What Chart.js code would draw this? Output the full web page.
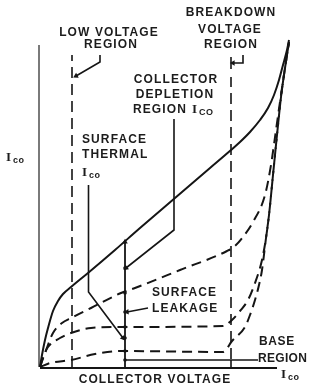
<!DOCTYPE html>
<html>
<head>
<meta charset="utf-8">
<script src="https://cdn.jsdelivr.net/npm/chart.js@4/dist/chart.umd.min.js"></script>
<style>
  body { margin: 0; background: #fff; }
  canvas { display: block; }
</style>
</head>
<body>
<canvas id="myChart" width="310" height="388"></canvas>
<script>
// collector voltage (x) and I_co (y), arbitrary units
const mainV = [0, 1, 2.5, 4, 6.5, 9, 11.5, 15.5, 24, 37.5, 50, 67.5, 85, 95.5, 100, 105, 110, 114, 117, 119.5, 121.5, 123.5, 124.5];
const mainI = [0, 6, 13.5, 19.5, 28, 33, 36.5, 40, 47, 58.5, 69.5, 84.5, 99.5, 108.5, 112.5, 117.5, 123.5, 129.5, 136, 143.5, 151, 158.5, 163.5];

// dashed components
const thermalV = [0, 2.5, 6.5, 11, 15.5, 25.5, 40.5, 47.5, 70, 93.5, 97.5, 101.5, 106.5, 112.5, 115.5, 118, 120.5, 122.5, 124.5];
const thermalI = [0, 7, 17, 22, 24.5, 29.5, 37, 39.5, 48.5, 58, 60.5, 65, 72.5, 86, 101, 118.5, 136, 149.5, 162.5];

const leakageV = [0, 2, 4, 10, 15.5, 25.5, 40.5, 91.5, 96, 100, 104, 107.5, 111, 113, 114.5, 116.5, 118.5, 120.5, 122.5, 124.5];
const leakageI = [0, 6, 10, 14.5, 17, 19.5, 20, 20.5, 23.5, 28, 33.5, 42, 53.5, 64.5, 76, 96, 116, 135, 149.5, 162.5];

const baseV = [0, 5, 15.5, 27.5, 40.5, 91.5, 96, 102.5, 105, 107.5, 109.5, 111, 113, 114.5, 116.5, 118.5, 120.5, 122.5, 124.5];
const baseI = [0, 2, 3.5, 6.5, 8, 7.5, 13, 20, 26, 33.5, 41, 48.5, 64.5, 76, 96, 116, 135, 149.5, 162.5];

// region boundaries and guide lines
const lowVoltageV = 16;
const breakdownV = 95.5;
const probeV = 42.5;
const probeMarksI = [62.5, 49.5, 37, 27.5, 20, 14.5, 8, 3.5];
const baseLineI = 3.5;
const baseLineEndV = 109;
const xAxisEndV = 118.5;
const yAxisTopI = 161;

// leader lines
const lowLeaderV = [30, 30, 18];
const lowLeaderI = [156, 152.5, 145.5];
const breakLeaderV = [101.5, 101.5, 96.5];
const breakLeaderI = [156, 152, 152];
const depletionLeaderV = [67, 67, 43];
const depletionLeaderI = [124, 68.5, 49.5];
const thermalLeaderV = [24.25, 24.25, 41.5];
const thermalLeaderI = [91, 37.5, 14.5];
const leakLeaderV = [54, 43.5];
const leakLeaderI = [29.5, 27.5];

const INK = '#151515';

function pts(xs, ys) {
    return xs.map((x, i) => ({ x: x, y: ys[i] }));
}

function curve(xs, ys, dashed) {
    return {
        data: pts(xs, ys),
        borderColor: INK,
        borderWidth: 2,
        borderDash: dashed ? [10, 6] : [],
        pointRadius: 0,
        cubicInterpolationMode: 'monotone'
    };
}

function straight(xs, ys, opts) {
    return Object.assign({
        data: pts(xs, ys),
        borderColor: INK,
        borderWidth: 1.6,
        pointRadius: 0,
        tension: 0
    }, opts || {});
}

function arrowEnd(n, rot) {
    const r = [];
    const a = [];
    for (let i = 0; i < n; i++) {
        r.push(i === n - 1 ? 3.2 : 0);
        a.push(rot);
    }
    return { pointRadius: r, pointRotation: a, pointStyle: 'triangle', pointBackgroundColor: INK, pointBorderColor: INK, pointBorderWidth: 0 };
}

const texts = [
    { t: 'LOW VOLTAGE', x: 109, y: 33, align: 'center' },
    { t: 'REGION', x: 111, y: 45, align: 'center' },
    { t: 'BREAKDOWN', x: 231, y: 13, align: 'center' },
    { t: 'VOLTAGE', x: 230, y: 30, align: 'center' },
    { t: 'REGION', x: 231, y: 45, align: 'center' },
    { t: 'COLLECTOR', x: 176, y: 80, align: 'center' },
    { t: 'DEPLETION', x: 175, y: 95, align: 'center' },
    { t: 'REGION', x: 133, y: 110, align: 'left', ico: 'CO' },
    { t: 'SURFACE', x: 82, y: 140, align: 'left' },
    { t: 'THERMAL', x: 82, y: 155, align: 'left' },
    { t: '', x: 82, y: 173, align: 'left', ico: 'co' },
    { t: '', x: 6, y: 158, align: 'left', ico: 'co' },
    { t: 'SURFACE', x: 152, y: 293, align: 'left' },
    { t: 'LEAKAGE', x: 152, y: 309, align: 'left' },
    { t: 'BASE', x: 259, y: 342, align: 'left', sp: 0.6 },
    { t: 'REGION', x: 258, y: 359, align: 'left', sp: 0.3 },
    { t: '', x: 281, y: 375, align: 'left', ico: 'co' },
    { t: 'COLLECTOR VOLTAGE', x: 155, y: 380, align: 'center' }
];

const labelPlugin = {
    id: 'labels',
    afterDraw(chart) {
        const ctx = chart.ctx;
        ctx.save();
        ctx.fillStyle = '#1c1c1c';
        ctx.textBaseline = 'middle';
        texts.forEach(l => {
            ctx.font = 'bold 12px "Liberation Sans", Arial, sans-serif';
            ctx.letterSpacing = (l.sp !== undefined ? l.sp : 1.1) + 'px';
            ctx.textAlign = l.align;
            let x = l.x;
            if (l.t) {
                ctx.fillText(l.t, x, l.y);
                x += ctx.measureText(l.t).width + 5;
            }
            if (l.ico) {
                ctx.textAlign = 'left';
                ctx.letterSpacing = '0px';
                ctx.font = 'bold 13px "Liberation Serif", serif';
                ctx.fillText('I', x, l.y);
                x += ctx.measureText('I').width + 2;
                ctx.font = 'bold 9px "Liberation Sans", Arial, sans-serif';
                ctx.letterSpacing = '0.5px';
                ctx.fillText(l.ico, x, l.y + 3);
            }
        });
        ctx.restore();
    }
};

const ctx = document.getElementById('myChart').getContext('2d');

new Chart(ctx, {
    type: 'line',
    data: {
        datasets: [
            curve(mainV, mainI, false),
            curve(thermalV, thermalI, true),
            curve(leakageV, leakageI, true),
            curve(baseV, baseI, true),
            straight([-0.5, -0.5], [0, yAxisTopI], { borderColor: '#7a7a7a', borderWidth: 2 }),
            straight([0, xAxisEndV], [-0.5, -0.5], { borderWidth: 2 }),
            straight([lowVoltageV, lowVoltageV], [0, 156], { borderDash: [11, 6] }),
            straight([breakdownV, breakdownV], [4, 145], { borderDash: [11, 6] }),
            straight([breakdownV, breakdownV], [-0.5, baseLineI]),
            straight([probeV, baseLineEndV], [baseLineI, baseLineI]),
            straight(probeMarksI.map(() => probeV).concat([probeV]), probeMarksI.concat([0]), {
                borderWidth: 1.8,
                pointRadius: probeMarksI.map((v, i) => i === 0 ? 3.2 : 1.8).concat([0]),
                pointStyle: probeMarksI.map((v, i) => i === 0 ? 'triangle' : 'circle').concat(['circle']),
                pointBackgroundColor: INK,
                pointBorderWidth: 0
            }),
            straight(lowLeaderV, lowLeaderI, arrowEnd(3, 242)),
            straight(breakLeaderV, breakLeaderI, arrowEnd(3, 270)),
            straight([breakdownV, breakdownV], [149, 155]),
            straight(depletionLeaderV, depletionLeaderI, arrowEnd(3, 232)),
            straight(thermalLeaderV, thermalLeaderI, arrowEnd(3, 142)),
            straight(leakLeaderV, leakLeaderI, arrowEnd(2, 265))
        ]
    },
    options: {
        responsive: false,
        animation: false,
        events: [],
        layout: { padding: { left: 40, right: 10, top: 37, bottom: 21 } },
        datasets: { line: { clip: false } },
        plugins: { legend: { display: false }, tooltip: { enabled: false } },
        scales: {
            x: { type: 'linear', min: 0, max: 130, display: false },
            y: { type: 'linear', min: 0, max: 165, display: false }
        }
    },
    plugins: [labelPlugin]
});
</script>
</body>
</html>
